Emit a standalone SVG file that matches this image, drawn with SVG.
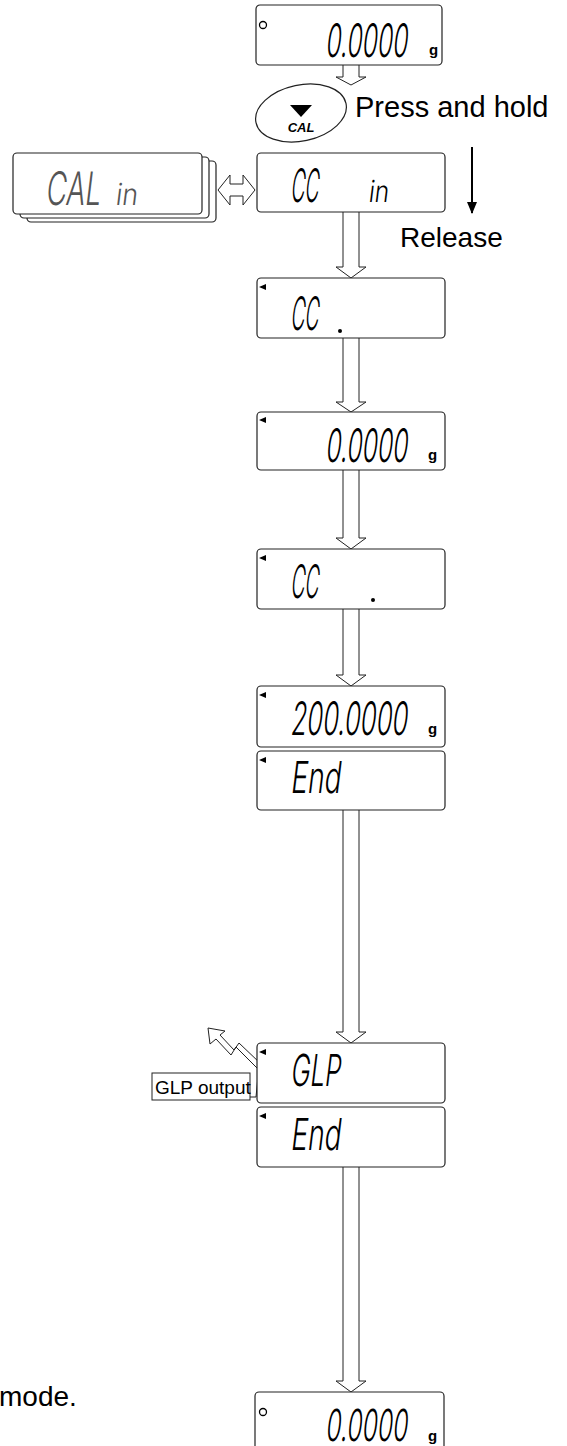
<svg xmlns="http://www.w3.org/2000/svg" width="567" height="1446" viewBox="0 0 567 1446">
<style>
.box{fill:#fff;stroke:#222;stroke-width:1.2}
.sh{fill:none;stroke:#888;stroke-width:1.2}
.lcd{font-family:Inter,"DejaVu Sans",sans-serif;font-weight:300;fill:#000}
.grey{fill:#555}
.unit{font-family:"Liberation Sans",Arial,sans-serif;font-weight:bold;font-size:15px;fill:#000}
.lbl{font-family:"Liberation Sans",Arial,sans-serif;font-size:28px;fill:#000}
.arr{fill:#fff;stroke:#222;stroke-width:1}
.ind{fill:#000}
</style>
<defs>
<marker id="solid" markerWidth="12" markerHeight="10" refX="11" refY="5" orient="auto" markerUnits="userSpaceOnUse">
<path d="M0,0 L12,5 L0,10 z" fill="#000"/>
</marker>
</defs>

<g id="connectors">
<path class="arr" d="M343,65 V77 H336 L351,85 L366,77 H359 V65"/>
<path class="arr" d="M343,212 V267 H336 L351,278 L366,267 H359 V212"/>
<path class="arr" d="M343,338 V402 H336 L351,412 L366,402 H359 V338"/>
<path class="arr" d="M343,470 V538 H336 L351,549 L366,538 H359 V470"/>
<path class="arr" d="M343,609 V675 H336 L351,686 L366,675 H359 V609"/>
<path class="arr" d="M343,810 V1032 H336 L351,1043 L366,1032 H359 V810"/>
<path class="arr" d="M343,1167 V1381 H336 L351,1392 L366,1381 H359 V1167"/>
<path class="arr" d="M218,190 L230,175 V184 H243 V175 L255,190 L243,205 V196 H230 V205 Z"/>
<line x1="472" y1="147" x2="472" y2="213" stroke="#000" stroke-width="2" marker-end="url(#solid)"/>
<polyline points="250,1097 256,1097 259,1066" fill="none" stroke="#222" stroke-width="1"/>
<polygon class="arr" points="208,1028 225,1031 220,1035 234,1050 239,1043 261,1064 257,1068 236,1047 231,1055 216,1039 210,1044"/>
</g>

<g id="d1">
<rect class="box" x="256" y="5" width="186" height="60" rx="4"/>
<circle cx="263" cy="25" r="3.5" fill="none" stroke="#000" stroke-width="1.3"/>
<text class="lcd" transform="translate(325,57) skewX(-7)" font-size="46" textLength="82" lengthAdjust="spacingAndGlyphs">0.0000</text>
<text class="unit" x="429" y="55">g</text>
</g>

<g id="cal-key">
<ellipse cx="301" cy="113" rx="46" ry="28" fill="#fff" stroke="#222" stroke-width="1.2" transform="rotate(-12 301 113)"/>
<polygon points="290,105 312,105 301,117" fill="#000"/>
<text x="301" y="132" text-anchor="middle" font-family="Liberation Sans,Arial,sans-serif" font-size="13" font-weight="bold" font-style="italic">CAL</text>
</g>
<text class="lbl" x="355" y="117" font-size="29" style="font-size:29px">Press and hold</text>
<text class="lbl" x="400" y="247">Release</text>

<g id="cal-in-stack">
<rect class="box" x="27" y="161" width="189" height="61" rx="4"/>
<rect class="box" x="20" y="157" width="189" height="61" rx="4"/>
<rect class="box" x="13" y="153" width="189" height="61" rx="4"/>
<text class="lcd grey" transform="translate(45,205) skewX(-7)" font-size="46" textLength="55" lengthAdjust="spacingAndGlyphs">CAL</text>
<text class="lcd grey" transform="translate(115,205) skewX(-7)" font-size="30" textLength="22" lengthAdjust="spacingAndGlyphs">in</text>
</g>

<g id="d2">
<rect class="box" x="257" y="153" width="188" height="59" rx="4"/>
<text class="lcd" transform="translate(290,202) skewX(-7)" font-size="46" textLength="28" lengthAdjust="spacingAndGlyphs">CC</text>
<text class="lcd" transform="translate(368,202) skewX(-7)" font-size="30" textLength="20" lengthAdjust="spacingAndGlyphs">in</text>
</g>

<g id="d3">
<rect class="box" x="257" y="278" width="188" height="60" rx="4"/>
<polygon class="ind" points="259,287 266,284 266,290"/>
<text class="lcd" transform="translate(290,330) skewX(-7)" font-size="46" textLength="28" lengthAdjust="spacingAndGlyphs">CC</text>
<circle cx="340" cy="331" r="2" fill="#000"/>
</g>

<g id="d4">
<rect class="box" x="257" y="412" width="188" height="58" rx="4"/>
<polygon class="ind" points="259,420 266,417 266,423"/>
<text class="lcd" transform="translate(325,462) skewX(-7)" font-size="46" textLength="82" lengthAdjust="spacingAndGlyphs">0.0000</text>
<text class="unit" x="428" y="460">g</text>
</g>

<g id="d5">
<rect class="box" x="257" y="549" width="188" height="60" rx="4"/>
<polygon class="ind" points="259,558 266,555 266,561"/>
<text class="lcd" transform="translate(290,598) skewX(-7)" font-size="46" textLength="28" lengthAdjust="spacingAndGlyphs">CC</text>
<circle cx="373" cy="600" r="2" fill="#000"/>
</g>

<g id="d6">
<rect class="box" x="257" y="686" width="188" height="61" rx="4"/>
<polygon class="ind" points="259,695 266,692 266,698"/>
<text class="lcd" transform="translate(290,735) skewX(-7)" font-size="46" textLength="117" lengthAdjust="spacingAndGlyphs">200.0000</text>
<text class="unit" x="428" y="734">g</text>
</g>

<g id="d7">
<rect class="box" x="257" y="751" width="188" height="59" rx="4"/>
<polygon class="ind" points="259,760 266,757 266,763"/>
<text class="lcd" transform="translate(290,793) skewX(-7)" font-size="44" textLength="50" lengthAdjust="spacingAndGlyphs">End</text>
</g>

<g id="glp-output">
<rect x="152" y="1073" width="98" height="27" fill="#fff" stroke="#222" stroke-width="1"/>
<text x="155" y="1094" font-family="Liberation Sans,Arial,sans-serif" font-size="19">GLP output</text>
</g>

<g id="d8">
<rect class="box" x="257" y="1043" width="188" height="60" rx="4"/>
<polygon class="ind" points="259,1052 266,1049 266,1055"/>
<text class="lcd" transform="translate(290,1086) skewX(-7)" font-size="44" textLength="50" lengthAdjust="spacingAndGlyphs">GLP</text>
</g>

<g id="d9">
<rect class="box" x="257" y="1107" width="188" height="60" rx="4"/>
<polygon class="ind" points="259,1116 266,1113 266,1119"/>
<text class="lcd" transform="translate(290,1150) skewX(-7)" font-size="44" textLength="50" lengthAdjust="spacingAndGlyphs">End</text>
</g>

<text class="lbl" x="-1" y="1406">mode.</text>

<g id="d10">
<rect class="box" x="255" y="1392" width="189" height="62" rx="4"/>
<circle cx="263" cy="1412" r="3.5" fill="none" stroke="#000" stroke-width="1.3"/>
<text class="lcd" transform="translate(325,1441) skewX(-7)" font-size="44" textLength="82" lengthAdjust="spacingAndGlyphs">0.0000</text>
<text class="unit" x="428" y="1441">g</text>
</g>
</svg>
